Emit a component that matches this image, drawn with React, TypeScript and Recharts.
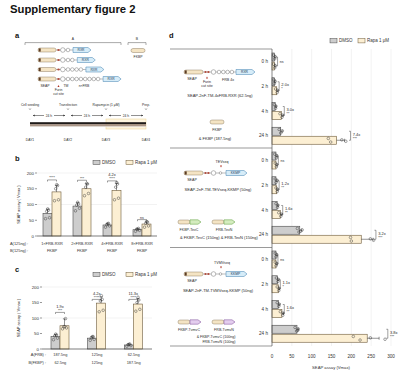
import React from "react";
import { Bar, BarChart, CartesianGrid, XAxis, YAxis } from "recharts";

const FONT = "'Liberation Sans', Arial, sans-serif";
const DMSO_FILL = "#cdcdcd";
const DMSO_LINE = "#4a4a4a";
const RAPA_FILL = "#fcefd3";
const RAPA_LINE = "#6d5a3a";
const INK = "#2a2a2a";

// panel b
const bLabelA = ["1×FRB-RXR", "2×FRB-RXR", "4×FRB-RXR", "8×FRB-RXR"];
const bLabelB = ["FKBP", "FKBP", "FKBP", "FKBP"];
const bDmso = [72, 95, 35, 20];
const bRapa = [140, 150, 145, 38];
const bDmsoErr = [13, 11, 5, 4];
const bRapaErr = [20, 16, 22, 7];
const bDmsoReps = [[55, 58, 78, 82, 86], [80, 88, 98, 102, 107], [28, 32, 36, 40, 39], [15, 18, 22, 24, 21]];
const bRapaReps = [[112, 115, 150, 160, 163], [128, 135, 155, 165, 167], [115, 120, 155, 165, 170], [28, 32, 40, 44, 46]];
const bFold = ["", "", "4.2x", ""];
const bStars = ["****", "***", "****", "ns"];
const bBracket = [178, 177, 175, 52];
const bTicks = [0, 50, 100, 150, 200];

// panel c
const cLabelA = ["187.5ng", "125ng", "62.5ng"];
const cLabelB = ["62.5ng", "125ng", "187.5ng"];
const cDmso = [40, 35, 13];
const cRapa = [75, 148, 145];
const cDmsoErr = [7, 5, 3];
const cRapaErr = [22, 20, 18];
const cDmsoReps = [[30, 35, 42, 45, 48], [28, 31, 36, 40, 40], [9, 11, 14, 16, 15]];
const cRapaReps = [[65, 68, 72, 98, 72], [120, 125, 155, 160, 172], [122, 128, 150, 158, 167]];
const cFold = ["1.9x", "4.2x", "11.3x"];
const cStars = ["***", "****", "****"];
const cBracket = [118, 160, 160];

// panel d (three constructs x four time points)
const dTimes = ["0 h", "2 h", "4 h", "24 h"];
const dDmso = [6, 6, 8, 22, 10, 10, 13, 70, 10, 14, 16, 63];
const dRapa = [6, 12, 24, 163, 10, 12, 21, 225, 10, 16, 25, 240];
const dDmsoErr = [2, 2, 3, 4, 3, 3, 3, 5, 3, 3, 4, 4];
const dRapaErr = [2, 3, 4, 20, 3, 3, 4, 30, 3, 3, 4, 30];
const dDmsoReps = [
  [4, 7, 8], [5, 6, 8], [6, 9, 10], [18, 22, 26],
  [7, 11, 12], [8, 10, 13], [10, 14, 15], [64, 68, 76, 72],
  [8, 10, 12], [11, 15, 16], [13, 17, 18], [58, 62, 66, 65],
];
const dRapaReps = [
  [4, 7, 8], [9, 13, 14], [20, 25, 27], [142, 148, 176, 186],
  [8, 11, 12], [10, 13, 14], [17, 22, 24], [198, 200, 248, 256],
  [8, 10, 12], [13, 17, 18], [21, 27, 28], [205, 222, 248, 285],
];
const dFold = ["", "2.0x", "3.0x", "7.4x", "", "1.2x", "1.6x", "3.2x", "", "1.1x", "1.6x", "3.8x"];
const dStars = ["ns", "*", "**", "***", "ns", "**", "**", "***", "ns", "*", "**", "***"];
const dBracket = [14, 18, 31, 198, 16, 18, 27, 262, 15, 21, 31, 292];
const dTicks = [0, 50, 100, 150, 200, 250, 300];

const bData = bLabelA.map((a, i) => ({ a, dmso: bDmso[i], rapa: bRapa[i] }));
const cData = cLabelA.map((a, i) => ({ a, dmso: cDmso[i], rapa: cRapa[i] }));
const dData = dDmso.map((v, i) => ({ row: `${Math.floor(i / 4)}|${dTimes[i % 4]}`, dmso: v, rapa: dRapa[i] }));

type Ann = { fold: string[]; stars: string[]; at: number[] };

function vShape(key: "dmso" | "rapa", fill: string, stroke: string, err: number[], reps: number[][], ann?: Ann) {
  return (p: any) => {
    const { x, y, width, height, payload, index } = p;
    const mean = payload[key];
    const base = y + height;
    const k = height / mean;
    const toY = (v: number) => base - v * k;
    const cx = x + width / 2;
    const ey = toY(mean + err[index]);
    const jit = [-2, 2, -0.8, 1, 0.2];
    let bracket = null;
    if (ann) {
      const left = x - width / 2;
      const yb = toY(ann.at[index]);
      const mid = (left + cx) / 2;
      bracket = (
        <g>
          <path d={`M${left},${yb + 1.6}V${yb}H${cx}V${yb + 1.6}`} fill="none" stroke={INK} strokeWidth={0.45} />
          <text x={mid} y={yb - 0.7} textAnchor="middle" fontSize={3.6} fill={INK}>{ann.stars[index]}</text>
          {ann.fold[index] && (
            <text x={mid} y={yb - 4.6} textAnchor="middle" fontSize={4} fill={INK}>{ann.fold[index]}</text>
          )}
        </g>
      );
    }
    return (
      <g>
        <rect x={x} y={y} width={width} height={height} fill={fill} stroke={stroke} strokeWidth={0.6} />
        <line x1={cx} y1={y} x2={cx} y2={ey} stroke={INK} strokeWidth={0.5} />
        <line x1={cx - 1.6} y1={ey} x2={cx + 1.6} y2={ey} stroke={INK} strokeWidth={0.5} />
        {reps[index].map((r, j) => (
          <circle key={j} cx={cx + jit[j % jit.length]} cy={toY(r)} r={1.3} fill="none" stroke="#333" strokeWidth={0.45} />
        ))}
        {bracket}
      </g>
    );
  };
}

function hShape(key: "dmso" | "rapa", fill: string, stroke: string, err: number[], reps: number[][], ann?: Ann) {
  return (p: any) => {
    const { x, y, width, height, payload, index } = p;
    const mean = payload[key];
    const k = width / mean;
    const toX = (v: number) => x + v * k;
    const cy = y + height / 2;
    const ex = toX(mean + err[index]);
    const jit = [-1.8, 1.8, -0.4, 1];
    let bracket = null;
    if (ann) {
      const top = cy - height - 1;
      const xb = toX(ann.at[index]);
      const mid = (top + cy) / 2;
      const fold = ann.fold[index];
      bracket = (
        <g>
          <path d={`M${xb - 1.5},${top}H${xb}V${cy}H${xb - 1.5}`} fill="none" stroke={INK} strokeWidth={0.45} />
          {fold && <text x={xb + 2.2} y={mid} fontSize={4} fill={INK}>{fold}</text>}
          <text x={xb + 2.2} y={fold ? mid + 4.2 : mid + 1.3} fontSize={3.6} fill={INK}>{ann.stars[index]}</text>
        </g>
      );
    }
    return (
      <g>
        <rect x={x} y={y} width={width} height={height} fill={fill} stroke={stroke} strokeWidth={0.6} />
        <line x1={toX(mean)} y1={cy} x2={ex} y2={cy} stroke={INK} strokeWidth={0.5} />
        <line x1={ex} y1={cy - 1.5} x2={ex} y2={cy + 1.5} stroke={INK} strokeWidth={0.5} />
        {reps[index].map((r, j) => (
          <circle key={j} cx={toX(r)} cy={cy + jit[j % jit.length]} r={1.3} fill="none" stroke="#333" strokeWidth={0.45} />
        ))}
        {bracket}
      </g>
    );
  };
}

function catTick(line1: string[], line2: string[], d1: number, d2: number) {
  return (p: any) => {
    const { x, y, payload } = p;
    const i = payload.index ?? line1.indexOf(payload.value);
    return (
      <g>
        <text x={x} y={y + d1} textAnchor="middle" fontSize={3.9} fill="#333">{line1[i]}</text>
        <text x={x} y={y + d2} textAnchor="middle" fontSize={3.9} fill="#333">{line2[i]}</text>
      </g>
    );
  };
}

function Pill({ x, y, w, h = 4, dark = true }: { x: number; y: number; w: number; h?: number; dark?: boolean }) {
  return (
    <g>
      <rect x={x} y={y - h / 2} width={w} height={h} rx={h / 2} fill="#f4e4c4" stroke="#7a6446" strokeWidth={0.4} />
      {dark && <rect x={x + 0.7} y={y - h / 2 + 0.4} width={2} height={h - 0.8} fill="#5a3b22" />}
    </g>
  );
}

function Tag({ x, y, w, label, fill, stroke, h = 5 }: { x: number; y: number; w: number; label?: string; fill: string; stroke: string; h?: number }) {
  const d = `M${x},${y - h / 2}H${x + w - 3}L${x + w},${y}L${x + w - 3},${y + h / 2}H${x}Z`;
  return (
    <g>
      <path d={d} fill={fill} stroke={stroke} strokeWidth={0.5} />
      {label && <text x={x + w / 2 - 1} y={y + 1.2} fontSize={3.3} textAnchor="middle" fill="#1d3b55">{label}</text>}
    </g>
  );
}

const bead = (cx: number, y: number, r: number, key?: number) => (
  <circle key={key} cx={cx} cy={y} r={r} fill="#fff" stroke="#555" strokeWidth={0.4} />
);

function ConstructA({ y, n }: { y: number; n: number }) {
  const xs = Array.from({ length: n }, (_, k) => 68 + k * 4.3);
  const tagX = xs[xs.length - 1] + 5;
  return (
    <g>
      <line x1={56} y1={y} x2={tagX} y2={y} stroke="#555" strokeWidth={0.4} />
      <Pill x={38} y={y} w={18} />
      <ellipse cx={58.5} cy={y} rx={1.3} ry={0.9} fill="#b04a3a" />
      {bead(62.8, y, 2.3)}
      {xs.map((cx, k) => bead(cx, y, 1.8, k))}
      <Tag x={tagX} y={y} w={18} label="RXR" fill="#d6ecf8" stroke="#3f7fae" />
    </g>
  );
}

function ConstructD({ y, frb }: { y: number; frb: boolean }) {
  const tagX = frb ? 236 : 226;
  return (
    <g>
      <line x1={203} y1={y} x2={tagX} y2={y} stroke="#555" strokeWidth={0.4} />
      <Pill x={184} y={y} w={19} />
      <ellipse cx={205.5} cy={y} rx={1.2} ry={0.9} fill="#b04a3a" />
      <ellipse cx={208.4} cy={y} rx={1.2} ry={0.9} fill="#b04a3a" />
      {bead(213.5, y, 2.3)}
      {frb ? [219, 223.3, 227.6, 231.9].map((cx, k) => bead(cx, y, 1.8, k)) : bead(220.5, y, 1.3)}
      <Tag x={tagX} y={y} w={frb ? 19 : 21} label={frb ? "RXR" : "KKMP"} fill="#d6ecf8" stroke="#3f7fae" />
    </g>
  );
}

function Split({ y, tagFill, tagLine, l1, l2 }: { y: number; tagFill: string; tagLine: string; l1: string; l2: string }) {
  return (
    <g>
      <Pill x={178} y={y} w={12} dark={false} />
      <Tag x={190} y={y} w={11} h={4.4} fill={tagFill} stroke={tagLine} />
      <Pill x={212} y={y} w={12} dark={false} />
      <Tag x={224} y={y} w={11} h={4.4} fill={tagFill} stroke={tagLine} />
      <text x={189} y={y + 8.5} fontSize={3.6} textAnchor="middle" fill={INK}>{l1}</text>
      <text x={224} y={y + 8.5} fontSize={3.6} textAnchor="middle" fill={INK}>{l2}</text>
    </g>
  );
}

const tri = (x: number, y: number, down = false) => (
  <path d={down ? `M${x - 1},${y - 1}H${x + 1}L${x},${y + 1}Z` : `M${x - 1},${y + 1}H${x + 1}L${x},${y - 1}Z`} fill="#b03020" />
);

function Legend({ x1, x2, y }: { x1: number; x2: number; y: number }) {
  return (
    <g fontSize={4.5} fill="#333">
      <rect x={x1} y={y - 2.2} width={7} height={4.4} fill={DMSO_FILL} stroke={DMSO_LINE} strokeWidth={0.5} />
      <text x={x1 + 9} y={y + 1.6}>DMSO</text>
      <rect x={x2} y={y - 2.2} width={7} height={4.4} fill={RAPA_FILL} stroke={RAPA_LINE} strokeWidth={0.5} />
      <text x={x2 + 9} y={y + 1.6}>Rapa 1 μM</text>
    </g>
  );
}

const timeLabels = ["Cell seeding", "Transfection", "Rapamycin (1 μM)", "Prep."];
const dayLabels = ["DAY1", "DAY2", "DAY3", "DAY4"];
const dayX = [30, 68, 106, 146];

export default function App() {
  const tick = { fontSize: 4.4, fill: "#333" };
  return (
    <div style={{ position: "fixed", left: 0, top: 0, width: 400, height: 370, background: "#fff", fontFamily: FONT, overflow: "hidden" }}>
      <div style={{ position: "absolute", left: 0, top: 165 }}>
        <BarChart width={160} height={91} data={bData} margin={{ top: 8, right: 3, bottom: 0, left: 0 }} barGap={0} barSize={9}>
          <CartesianGrid vertical={false} stroke="#e4e4e4" strokeWidth={0.5} />
          <XAxis dataKey="a" height={20} interval={0} tickLine={false} tickSize={0} tickMargin={0} axisLine={{ stroke: "#333", strokeWidth: 0.6 }} tick={catTick(bLabelA, bLabelB, 8.5, 15.5)} />
          <YAxis domain={[0, 200]} ticks={bTicks} width={37} tick={tick} tickSize={2} tickMargin={1} axisLine={false} tickLine={{ stroke: "#333", strokeWidth: 0.5 }} />
          <Bar dataKey="dmso" isAnimationActive={false} shape={vShape("dmso", DMSO_FILL, DMSO_LINE, bDmsoErr, bDmsoReps)} />
          <Bar dataKey="rapa" isAnimationActive={false} shape={vShape("rapa", RAPA_FILL, RAPA_LINE, bRapaErr, bRapaReps, { fold: bFold, stars: bStars, at: bBracket })} />
        </BarChart>
      </div>

      <div style={{ position: "absolute", left: 0, top: 277 }}>
        <BarChart width={155} height={92} data={cData} margin={{ top: 10, right: 3, bottom: 0, left: 0 }} barGap={0} barSize={9}>
          <CartesianGrid vertical={false} stroke="#e4e4e4" strokeWidth={0.5} />
          <XAxis dataKey="a" height={20} interval={0} tickLine={false} tickSize={0} tickMargin={0} axisLine={{ stroke: "#333", strokeWidth: 0.6 }} tick={catTick(cLabelA, cLabelB, 6.5, 14.5)} />
          <YAxis domain={[0, 200]} ticks={bTicks} width={42} tick={tick} tickSize={2} tickMargin={1} axisLine={false} tickLine={{ stroke: "#333", strokeWidth: 0.5 }} />
          <Bar dataKey="dmso" isAnimationActive={false} shape={vShape("dmso", DMSO_FILL, DMSO_LINE, cDmsoErr, cDmsoReps)} />
          <Bar dataKey="rapa" isAnimationActive={false} shape={vShape("rapa", RAPA_FILL, RAPA_LINE, cRapaErr, cRapaReps, { fold: cFold, stars: cStars, at: cBracket })} />
        </BarChart>
      </div>

      <div style={{ position: "absolute", left: 240, top: 45 }}>
        <BarChart layout="vertical" width={160} height={323} data={dData} margin={{ top: 4, right: 9, bottom: 0, left: 0 }} barGap={1} barSize={8}>
          <CartesianGrid horizontal={false} stroke="#e4e4e4" strokeWidth={0.5} />
          <XAxis type="number" domain={[0, 300]} ticks={dTicks} interval={0} height={22} tick={{ fontSize: 4.6, fill: "#333" }} tickLine={false} tickSize={0} tickMargin={9} axisLine={false} />
          <YAxis type="category" dataKey="row" width={32} interval={0} tick={{ fontSize: 4.6, fill: "#333" }} tickLine={false} tickSize={0} tickMargin={4} axisLine={{ stroke: "#444", strokeWidth: 0.6 }} tickFormatter={(v: string) => v.split("|")[1]} />
          <Bar dataKey="dmso" isAnimationActive={false} shape={hShape("dmso", DMSO_FILL, DMSO_LINE, dDmsoErr, dDmsoReps)} />
          <Bar dataKey="rapa" isAnimationActive={false} shape={hShape("rapa", RAPA_FILL, RAPA_LINE, dRapaErr, dRapaReps, { fold: dFold, stars: dStars, at: dBracket })} />
        </BarChart>
      </div>

      <svg width={400} height={370} style={{ position: "absolute", left: 0, top: 0, pointerEvents: "none" }} fontFamily={FONT}>
        <text x={10} y={12.5} fontSize={11.3} fontWeight="bold" fill="#111">Supplementary figure 2</text>
        <g fontSize={7.5} fontWeight="bold" fill="#111">
          <text x={15} y={37.5}>a</text>
          <text x={15} y={161}>b</text>
          <text x={15} y={272}>c</text>
          <text x={169} y={37.5}>d</text>
        </g>

        {/* panel a constructs */}
        <g fill={INK} fontSize={3.4}>
          <path d="M25,45V42.6H121V45" fill="none" stroke="#444" strokeWidth={0.45} />
          <text x={73} y={40} textAnchor="middle">A</text>
          <path d="M128,45V42.6H146V45" fill="none" stroke="#444" strokeWidth={0.45} />
          <text x={137} y={40} textAnchor="middle">B</text>
          {[1, 2, 4, 8].map((n, k) => <ConstructA key={n} y={[50, 60, 69.5, 79][k]} n={n} />)}
          <Pill x={131} y={50.5} w={14} dark={false} />
          <text x={138} y={58} textAnchor="middle">FKBP</text>
          <text x={45} y={86.5} textAnchor="middle">SEAP</text>
          {tri(58.5, 86)}
          <text x={58.5} y={91} textAnchor="middle">Furin</text>
          <text x={58.5} y={95} textAnchor="middle">cut site</text>
          <text x={66} y={86.5} textAnchor="middle">TM</text>
          <text x={84} y={86.5} textAnchor="middle">n×FRB</text>
        </g>

        {/* timeline */}
        <g fill={INK} fontSize={3.3}>
          {timeLabels.map((t, i) => (
            <text key={t} x={dayX[i]} y={106} textAnchor="middle">{t}</text>
          ))}
          {dayX.map((x) => (
            <path key={x} d={`M${x - 1},108.2L${x},110L${x + 1},108.2`} fill="none" stroke="#555" strokeWidth={0.35} />
          ))}
          {[[33, 65], [71, 103], [109, 143]].map(([a, b]) => {
            const m = (a + b) / 2;
            return (
              <g key={a}>
                <line x1={a} y1={115.5} x2={m - 5} y2={115.5} stroke="#222" strokeWidth={0.5} />
                <line x1={m + 5} y1={115.5} x2={b} y2={115.5} stroke="#222" strokeWidth={0.5} />
                <path d={`M${a},115.5l1.6,-0.9v1.8z M${b},115.5l-1.6,-0.9v1.8z`} fill="#222" />
                <text x={m} y={116.7} textAnchor="middle">24 h</text>
              </g>
            );
          })}
          <rect x={106} y={119} width={40} height={10} fill="#fdf4de" stroke="#efd28e" strokeWidth={0.5} />
          <rect x={30} y={122.2} width={116} height={2.1} fill="#1e1a18" />
          <rect x={30} y={124.3} width={116} height={1.6} fill="#9c8474" />
          <rect x={30} y={125.9} width={116} height={0.9} fill="#d6ccc4" />
          {dayLabels.map((t, i) => (
            <text key={t} x={dayX[i]} y={141} textAnchor="middle">{t}</text>
          ))}
        </g>

        {/* panel b / c decorations */}
        <Legend x1={93} x2={126} y={162.5} />
        <Legend x1={93} x2={126} y={274.5} />
        <g fill="#333" fontSize={3.9}>
          <text x={10} y={244.5}>A(125ng) :</text>
          <text x={10} y={251.5}>B(125ng) :</text>
          <text x={46} y={355.5} textAnchor="end">A(FRB) :</text>
          <text x={46} y={363.5} textAnchor="end">B(FKBP) :</text>
          <text transform="translate(19.5,204.5) rotate(-90)" textAnchor="middle" fontSize={4}>SEAP assay ( Vmax )</text>
          <text transform="translate(20,318) rotate(-90)" textAnchor="middle" fontSize={4}>SEAP assay ( Vmax )</text>
        </g>

        {/* panel d decorations */}
        <Legend x1={330} x2={358} y={40.7} />
        <g stroke="#555" strokeWidth={0.6}>
          <line x1={170} y1={49} x2={272} y2={49} />
          <line x1={170} y1={148} x2={272} y2={148} />
          <line x1={170} y1={247.5} x2={272} y2={247.5} />
          <line x1={170} y1={346} x2={272} y2={346} />
        </g>
        <text x={331} y={368.5} textAnchor="middle" fontSize={4.2} fill="#333">SEAP assay (Vmax)</text>

        <g fill={INK} fontSize={3.6}>
          <ConstructD y={72} frb />
          <text x={192} y={79.5} textAnchor="middle">SEAP</text>
          {tri(207, 77.5)}
          <text x={207} y={82.5} textAnchor="middle">Furin</text>
          <text x={207} y={86.5} textAnchor="middle">cut site</text>
          <text x={228} y={80.5} textAnchor="middle">FRB 4x</text>
          <text x={220} y={97} textAnchor="middle" fontSize={4}>SEAP-2nF-TM-4xFRB-RXR (62.5ng)</text>
          <Pill x={210} y={122} w={14} dark={false} />
          <text x={217} y={130.5} textAnchor="middle">FKBP</text>
          <text x={215} y={139.5} textAnchor="middle" fontSize={4}>&amp; FKBP (187.5ng)</text>

          <text x={222} y={163} textAnchor="middle">TEVseq</text>
          {tri(221, 166.5, true)}
          <ConstructD y={173} frb={false} />
          <text x={192} y={180.5} textAnchor="middle">SEAP</text>
          <text x={218} y={190.5} textAnchor="middle" fontSize={4}>SEAP-2nF-TM-TEVseq-KKMP (50ng)</text>
          <Split y={222} tagFill="#d4ecbf" tagLine="#5a9a3a" l1="FKBP-TevC" l2="FRB-TevN" />
          <text x={219} y={239} textAnchor="middle" fontSize={4}>&amp; FKBP-TevC (150ng) &amp; FRB-TevN (150ng)</text>

          <text x={222} y={264} textAnchor="middle">TVMVseq</text>
          {tri(221, 267.5, true)}
          <ConstructD y={274} frb={false} />
          <text x={192} y={281.5} textAnchor="middle">SEAP</text>
          <text x={218} y={291.5} textAnchor="middle" fontSize={4}>SEAP-2nF-TM-TVMVseq-KKMP (50ng)</text>
          <Split y={322} tagFill="#e3cdee" tagLine="#7b4b94" l1="FKBP-TvmvC" l2="FRB-TvmvN" />
          <text x={216} y={338} textAnchor="middle">&amp; FKBP-TvmvC (100ng)</text>
          <text x={219} y={342.5} textAnchor="middle">FRB-TvmvN (100ng)</text>
        </g>
      </svg>
    </div>
  );
}
